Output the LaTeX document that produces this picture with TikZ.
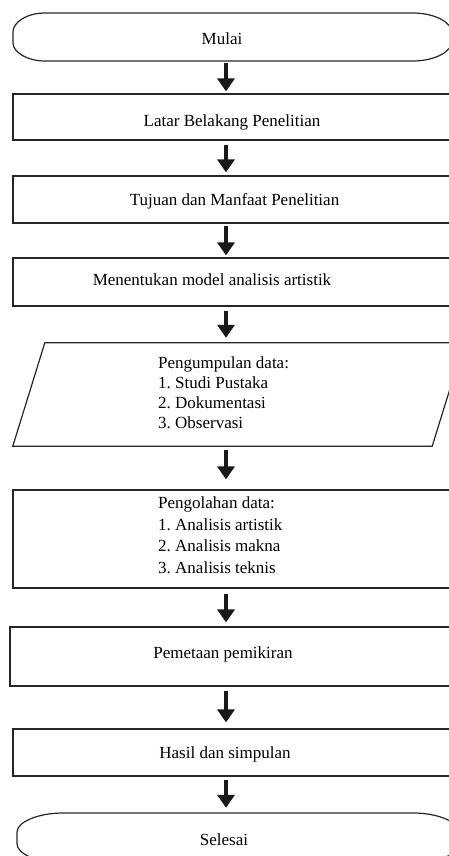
\documentclass[tikz,border=0pt]{standalone}
\usepackage{fontspec}
\setmainfont{Liberation Serif}
\frenchspacing
\usetikzlibrary{arrows.meta}

\begin{document}
\begin{tikzpicture}[x=1pt, y=-1pt,
    boxline/.style={draw=black!85, line width=1.2pt},
    box/.style={boxline, rectangle, inner sep=0pt, minimum width=452pt},
    term/.style={rectangle, inner sep=0pt},
    txt/.style={inner sep=0pt, font=\fontsize{17}{20}\selectfont},
    flow/.style={line width=4pt, black!90, -{Triangle[width=17pt,length=13pt]},
        shorten <=2pt, shorten >=2pt}]
    \useasboundingbox (0,0) rectangle (449,856);
    \clip (0,0) rectangle (449,856);
    \coordinate (spine) at (226,0);

    % terminators
    \node[term, minimum width=439pt, minimum height=48pt] (mulai) at (232.5,37) {};
    \draw[boxline] (45,13) -- (413,13) .. controls (434,13) and (452,22) .. (452,33) -- (452,41)
        .. controls (452,52) and (434,61) .. (413,61) -- (45,61)
        .. controls (27,61) and (13,52) .. (13,43) -- (13,32)
        .. controls (13,22) and (27,13) .. (45,13) -- cycle;
    \node[term, minimum width=442pt, minimum height=50pt] (selesai) at (238,838) {};
    \draw[boxline] (63,813) -- (413,813) .. controls (438,813) and (459,822) .. (459,832) -- (459,844)
        .. controls (459,854) and (438,863) .. (413,863) -- (63,863)
        .. controls (38,863) and (17,854) .. (17,844) -- (17,832)
        .. controls (17,822) and (38,813) .. (63,813) -- cycle;

    % process boxes
    \node[box, minimum height=46pt] (latar) at (239,117) {};
    \node[box, minimum height=47pt] (tujuan) at (239,199.5) {};
    \node[box, minimum height=48pt] (model) at (239,282) {};
    \node[term, minimum width=451pt, minimum height=103pt] (kumpul) at (238.5,394.5) {};
    \draw[boxline] (kumpul.south west) -- ([xshift=32pt]kumpul.north west) -- (kumpul.north east)
        -- ([xshift=-32pt]kumpul.south east) -- cycle;
    \node[box, minimum height=98pt] (olah) at (239,539) {};
    \node[box, minimum width=455pt, minimum height=59pt] (peta) at (237.5,656.5) {};
    \node[box, minimum height=47pt] (hasil) at (239,752.5) {};

    % texts
    \node[txt, anchor=base] (t-mulai) at (222,45) {Mulai};
    \node[txt, anchor=base] (t-latar) at (232,127) {Latar Belakang Penelitian};
    \node[txt, anchor=base] (t-tujuan) at (234.5,205) {Tujuan dan Manfaat Penelitian};
    \node[txt, anchor=base] (t-model) at (212,285) {Menentukan model analisis artistik};
    \node[txt, anchor=north west, align=left] (t-kumpul) at (158,356.5)
        {Pengumpulan data:\\1. Studi Pustaka\\2. Dokumentasi\\3. Observasi};
    \node[txt, anchor=north west, align=left, font=\fontsize{17}{21.5}\selectfont] (t-olah) at (158,496.5)
        {Pengolahan data:\\1. Analisis artistik\\2. Analisis makna\\3. Analisis teknis};
    \node[txt, anchor=base] (t-peta) at (223,658) {Pemetaan pemikiran};
    \node[txt, anchor=base] (t-hasil) at (225,758) {Hasil dan simpulan};
    \node[txt, anchor=base] (t-selesai) at (224,845) {Selesai};

    % arrows
    \draw[flow] (mulai.south -| spine) -- (latar.north -| spine);
    \draw[flow, shorten <=4pt, shorten >=3pt] (latar.south -| spine) -- (tujuan.north -| spine);
    \draw[flow] (tujuan.south -| spine) -- (model.north -| spine);
    \draw[flow, shorten <=4pt, shorten >=5pt] (model.south -| spine) -- (kumpul.north -| spine);
    \draw[flow, shorten <=4pt, shorten >=10pt] (kumpul.south -| spine) -- (olah.north -| spine);
    \draw[flow, shorten <=5pt, shorten >=4pt] (olah.south -| spine) -- (peta.north -| spine);
    \draw[flow, shorten <=4pt, shorten >=6pt] (peta.south -| spine) -- (hasil.north -| spine);
    \draw[flow, shorten <=3pt, shorten >=5pt] (hasil.south -| spine) -- (selesai.north -| spine);
\end{tikzpicture}
\end{document}
